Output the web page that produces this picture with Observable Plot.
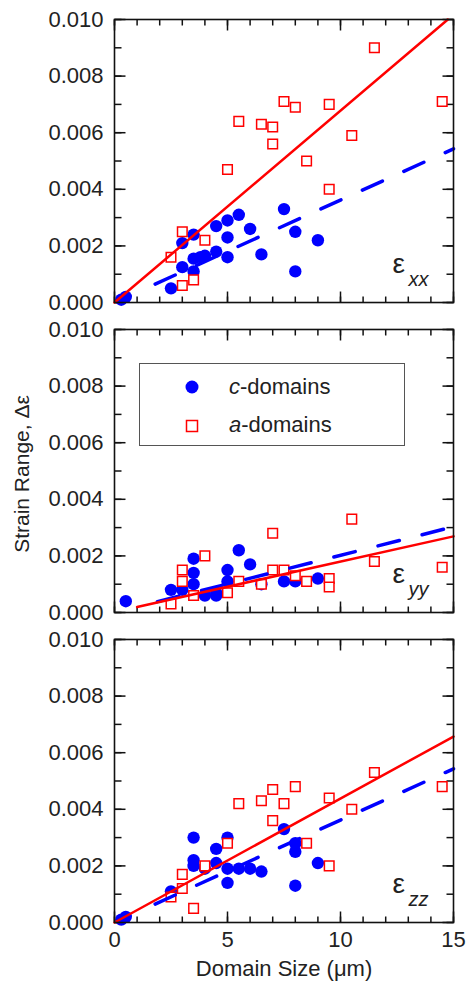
<!DOCTYPE html>
<html><head><meta charset="utf-8">
<script src="https://cdn.jsdelivr.net/npm/d3@7"></script>
<script src="https://cdn.jsdelivr.net/npm/@observablehq/plot@0.6"></script>
<style>
body{margin:0;background:#fff;font-family:"Liberation Sans",Arial,sans-serif;}
#wrap{position:relative;width:468px;height:983px;overflow:hidden;}
#ylab{position:absolute;left:22px;top:474px;transform:translate(-50%,-50%) rotate(-90deg);font-size:21px;white-space:nowrap;color:#222;}
#legend{position:absolute;left:139px;top:363px;width:266px;height:83px;border:1px solid #555;background:#fff;box-sizing:border-box;}
#legend .row{position:absolute;left:0;height:30px;display:flex;align-items:center;font-size:22px;color:#222;}
#legend svg{position:absolute;}
</style></head><body>
<div id="wrap"><div id="chart"></div><div id="ylab">Strain Range, Δε</div><div id="legend"></div></div>
<script>
// panels
const panels = ["xx", "yy", "zz"];

// c-domains (blue filled circles)
const cXX_x = [0.3, 0.5, 2.5, 3, 3, 3.5, 3.5, 3.5, 3.8, 4, 4.5, 4.5, 5, 5, 5, 5.5, 6, 6.5, 7.5, 8, 8, 9];
const cXX_y = [0.0001, 0.0002, 0.0005, 0.0021, 0.00125, 0.0024, 0.00155, 0.0011, 0.0016, 0.00165, 0.0018, 0.0027, 0.0029, 0.0023, 0.0016, 0.0031, 0.0026, 0.0017, 0.0033, 0.0025, 0.0011, 0.0022];
const cYY_x = [0.5, 2.5, 3, 3.5, 3.5, 3.5, 4, 4.5, 4.5, 5, 5, 5.5, 6, 6.5, 7.5, 8, 9];
const cYY_y = [0.0004, 0.0008, 0.0008, 0.0019, 0.0014, 0.0010, 0.0006, 0.0007, 0.0006, 0.0015, 0.0011, 0.0022, 0.0017, 0.0010, 0.0011, 0.0011, 0.0012];
const cZZ_x = [0.3, 0.5, 2.5, 3.5, 3.5, 3.5, 4, 4.5, 4.5, 5, 5, 5, 5.5, 6, 6.5, 7.5, 8, 8, 8, 9];
const cZZ_y = [0.0001, 0.0002, 0.0011, 0.0030, 0.0022, 0.0020, 0.0019, 0.0026, 0.0021, 0.0030, 0.0019, 0.0014, 0.0019, 0.0019, 0.0018, 0.0033, 0.0028, 0.0025, 0.0013, 0.0021];

// a-domains (red open squares)
const aXX_x = [2.5, 3, 3, 3.5, 4, 5, 5.5, 6.5, 7, 7, 7.5, 8, 8.5, 9.5, 9.5, 10.5, 11.5, 14.5];
const aXX_y = [0.0016, 0.0025, 0.0006, 0.0008, 0.0022, 0.0047, 0.0064, 0.0063, 0.0062, 0.0056, 0.0071, 0.0069, 0.0050, 0.0070, 0.0040, 0.0059, 0.0090, 0.0071];
const aYY_x = [2.5, 3, 3, 3.5, 4, 5, 5.5, 6.5, 7, 7, 7.5, 8, 8.5, 9.5, 9.5, 10.5, 11.5, 14.5];
const aYY_y = [0.0003, 0.0015, 0.0011, 0.0006, 0.0020, 0.0007, 0.0011, 0.0010, 0.0028, 0.0015, 0.0015, 0.0013, 0.0011, 0.0012, 0.0009, 0.0033, 0.0018, 0.0016];
const aZZ_x = [2.5, 3, 3, 3.5, 4, 5, 5.5, 6.5, 7, 7, 7.5, 8, 8.5, 9.5, 9.5, 10.5, 11.5, 14.5];
const aZZ_y = [0.0009, 0.0017, 0.0012, 0.0005, 0.0020, 0.0028, 0.0042, 0.0043, 0.0047, 0.0036, 0.0042, 0.0048, 0.0028, 0.0044, 0.0020, 0.0040, 0.0053, 0.0048];

// linear fits per panel
const aSlope = [0.000678, 0.000178, 0.000438];
const aIntercept = [0, 0.00002, 0];
const aStart = [0, 1, 0];
const cSlope = [0.000362, 0.000202, 0.000362];
const cIntercept = [0, 0, 0];
const cStart = [1.8, 1.9, 1.8];
const fitEnd = 15;

// axes
const xDomain = [0, 15];
const yDomain = [0, 0.010];
const xMinor = d3.range(0, 16, 1);
const xMajor = [0, 5, 10, 15];
const yMinor = d3.range(0, 11, 1).map(d => d / 1000);
const yMajor = [0, 0.002, 0.004, 0.006, 0.008, 0.010];

const zip = (panel, xs, ys) => xs.map((x, i) => ({panel, x, y: ys[i]}));
const cRows = [...zip("xx", cXX_x, cXX_y), ...zip("yy", cYY_x, cYY_y), ...zip("zz", cZZ_x, cZZ_y)];
const aRows = [...zip("xx", aXX_x, aXX_y), ...zip("yy", aYY_x, aYY_y), ...zip("zz", aZZ_x, aZZ_y)];
// fit segments end where they leave the frame (top edge or x = 15)
const fitRows = (slopes, ints, starts) => panels.flatMap((p, i) => {
  const xEnd = Math.min(fitEnd, (yDomain[1] - ints[i]) / slopes[i]);
  return [starts[i], xEnd].map(x => ({panel: p, x, y: slopes[i] * x + ints[i]}));
});
const aFit = fitRows(aSlope, aIntercept, aStart);
const cFit = fitRows(cSlope, cIntercept, cStart);
const labelRows = panels.map(p => ({panel: p}));

// layout
const W = 468, H = 983, mL = 114, mR = 15, mT = 19, mB = 61, padIn = 0.087;
const frameW = W - mL - mR;
const frameH = (H - mT - mB) * (1 - padIn) / (panels.length - padIn);
const pxToX = px => px / frameW * (xDomain[1] - xDomain[0]);
const pxToY = px => px / frameH * (yDomain[1] - yDomain[0]);

// inward tick segments, one set per panel
const perPanel = t => panels.flatMap(p => t.map(v => ({panel: p, v})));
const tk = {fy: "panel", stroke: "#111", strokeWidth: 1.5};
const ticksBottom = (t, len) => Plot.link(perPanel(t), {x1: "v", x2: "v", y1: () => yDomain[0], y2: () => yDomain[0] + pxToY(len), ...tk});
const ticksTop = (t, len) => Plot.link(perPanel(t), {x1: "v", x2: "v", y1: () => yDomain[1] - pxToY(len), y2: () => yDomain[1], ...tk});
const ticksLeft = (t, len) => Plot.link(perPanel(t), {y1: "v", y2: "v", x1: () => xDomain[0], x2: () => xDomain[0] + pxToX(len), ...tk});
const ticksRight = (t, len) => Plot.link(perPanel(t), {y1: "v", y2: "v", x1: () => xDomain[1] - pxToX(len), x2: () => xDomain[1], ...tk});

const chart = Plot.plot({
  width: W, height: H,
  marginLeft: mL, marginRight: mR, marginTop: mT, marginBottom: mB,
  style: {fontFamily: '"Liberation Sans", Arial, sans-serif', fontSize: "22px", color: "#222", background: "#fff"},
  x: {domain: xDomain},
  y: {domain: yDomain},
  fy: {domain: panels, paddingInner: padIn, paddingOuter: 0, axis: null, round: false},
  marks: [
    ticksBottom(xMinor, 6),
    ticksTop(xMinor, 6),
    ticksBottom(xMajor, 11),
    ticksTop(xMajor, 11),
    ticksLeft(yMinor, 7),
    ticksRight(yMinor, 7),
    ticksLeft(yMajor, 11),
    ticksRight(yMajor, 11),
    Plot.dot(cRows, {x: "x", y: "y", fy: "panel", r: 6.2, fill: "#0000ff", stroke: "none"}),
    Plot.dot(aRows, {x: "x", y: "y", fy: "panel", symbol: "square", r: 5.4, fill: "white", stroke: "#ff0000", strokeWidth: 1.5}),
    Plot.line(cFit, {x: "x", y: "y", fy: "panel", z: "panel", stroke: "#0000ff", strokeWidth: 3.5, strokeDasharray: "22,23.5"}),
    Plot.line(aFit, {x: "x", y: "y", fy: "panel", z: "panel", stroke: "#ff0000", strokeWidth: 2.5}),
    Plot.text(labelRows, {fy: "panel", text: () => "ε", frameAnchor: "bottom-right", textAnchor: "start", lineAnchor: "bottom", dx: -61, dy: -30, fontSize: 28, fill: "#222"}),
    Plot.text(labelRows, {fy: "panel", text: "panel", frameAnchor: "bottom-right", textAnchor: "start", lineAnchor: "bottom", dx: -45, dy: -17, fontSize: 20, fontStyle: "italic", fill: "#222"}),
    Plot.frame({stroke: "#111", strokeWidth: 1.6}),
    Plot.axisX({anchor: "bottom", ticks: xMajor, tickSize: 0, tickPadding: 9, label: "Domain Size (μm)", labelAnchor: "center", labelArrow: "none", labelOffset: 53, fontSize: 22}),
    Plot.axisY({anchor: "left", ticks: yMajor, tickSize: 0, tickPadding: 11, tickFormat: d3.format(".3f"), label: null, fontSize: 22})
  ]
});
document.getElementById("chart").appendChild(chart);

// legend
const legend = document.getElementById("legend");
legend.innerHTML = `
  <svg width="264" height="81" style="left:0;top:0">
    <circle cx="52" cy="23" r="6.5" fill="#0000ff"></circle>
    <rect x="46.5" y="56.5" width="11" height="11" fill="white" stroke="#ff0000" stroke-width="1.5"></rect>
  </svg>
  <div class="row" style="left:89px;top:8px"><span><i>c</i>-domains</span></div>
  <div class="row" style="left:89px;top:46px"><span><i>a</i>-domains</span></div>`;
</script>
</body></html>
